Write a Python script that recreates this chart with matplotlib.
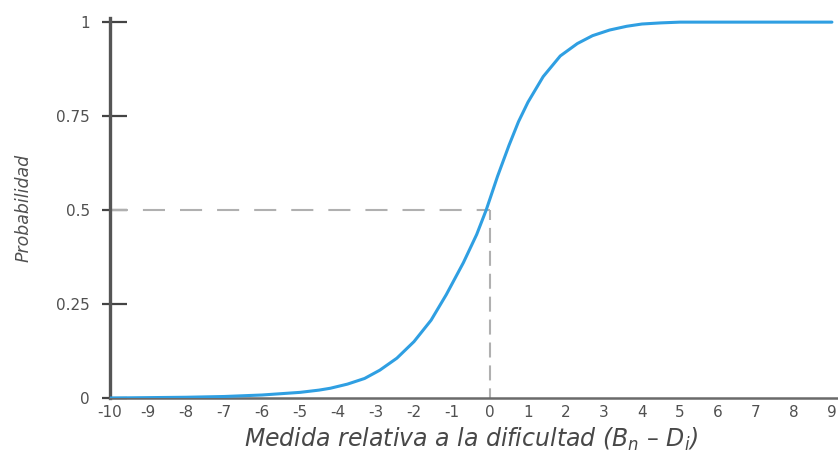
import matplotlib
matplotlib.use('Agg')
import matplotlib.pyplot as plt
from matplotlib.ticker import FixedLocator

# Curva característica (medida relativa vs probabilidad)
medida = [-10, -9, -8, -7, -6, -5, -4.5, -4.2, -3.75, -3.3, -2.9, -2.45, -2.0,
          -1.55, -1.15, -0.7, -0.35, -0.1, 0.2, 0.5, 0.75, 1.0, 1.4, 1.85, 2.3,
          2.7, 3.15, 3.6, 4.0, 4.5, 5, 6, 7, 8, 9]
probabilidad = [0.0, 0.001, 0.002, 0.004, 0.008, 0.015, 0.021, 0.026, 0.037,
                0.052, 0.074, 0.106, 0.15, 0.207, 0.275, 0.36, 0.435, 0.5,
                0.59, 0.672, 0.735, 0.787, 0.855, 0.91, 0.943, 0.964, 0.979,
                0.989, 0.995, 0.998, 1.0, 1.0, 1.0, 1.0, 1.0]

x_ticks = list(range(-10, 10))
y_ticks = [0, 0.25, 0.5, 0.75, 1]
y_labels = ['0', '0.25', '0.5', '0.75', '1']

texto = '#505050'
eje = '#555555'

fig = plt.figure(figsize=(8.38, 4.51), dpi=100)
ax = fig.add_axes([0.1313, 0.1175, 0.8687, 0.8426])

# guías discontinuas en p = 0.5
ax.plot([-10, 0], [0.5, 0.5], color='#b0b0b0', lw=1.5,
        linestyle=(2.0, (10.6, 7.2)))
ax.plot([0, 0], [0.5, 0], color='#b0b0b0', lw=1.5,
        linestyle=(2.4, (7.2, 3.8)))
ax.plot(medida, probabilidad, color='#2f9fe2', lw=2.2,
        solid_joinstyle='round', solid_capstyle='round', zorder=3)

ax.set_xlim(-10, 9.16)
ax.set_ylim(0, 1.011)

for s in ['top', 'right']:
    ax.spines[s].set_visible(False)
ax.spines['left'].set_color(eje)
ax.spines['left'].set_linewidth(2.4)
ax.spines['bottom'].set_color('#6a6a6a')
ax.spines['bottom'].set_linewidth(1.8)

ax.set_xticks(x_ticks)
ax.set_xticklabels([str(v) for v in x_ticks])
ax.tick_params(axis='x', length=0, pad=5, labelsize=11, labelcolor=texto)

ax.set_yticks(y_ticks)
ax.set_yticklabels(y_labels)
ax.tick_params(axis='y', which='major', direction='in', length=12.2, width=1.6,
               color='#444444', pad=14.4, labelsize=11, labelcolor=texto)
ax.yaxis.remove_overlapping_locs = False
ax.yaxis.set_minor_locator(FixedLocator(y_ticks))
ax.tick_params(axis='y', which='minor', direction='out', length=5.8, width=1.6,
               color='#444444')

ax.set_ylabel('Probabilidad', fontsize=12.5, style='italic', color=texto)
ax.yaxis.set_label_coords(-0.106, 0.5)
ax.set_xlabel(r'Medida relativa a la dificultad (B$_n$ – D$_i$)', fontsize=17,
              style='italic', color='#484848')
ax.xaxis.set_label_coords(0.496, -0.072)

plt.savefig('out.png', dpi=100)
